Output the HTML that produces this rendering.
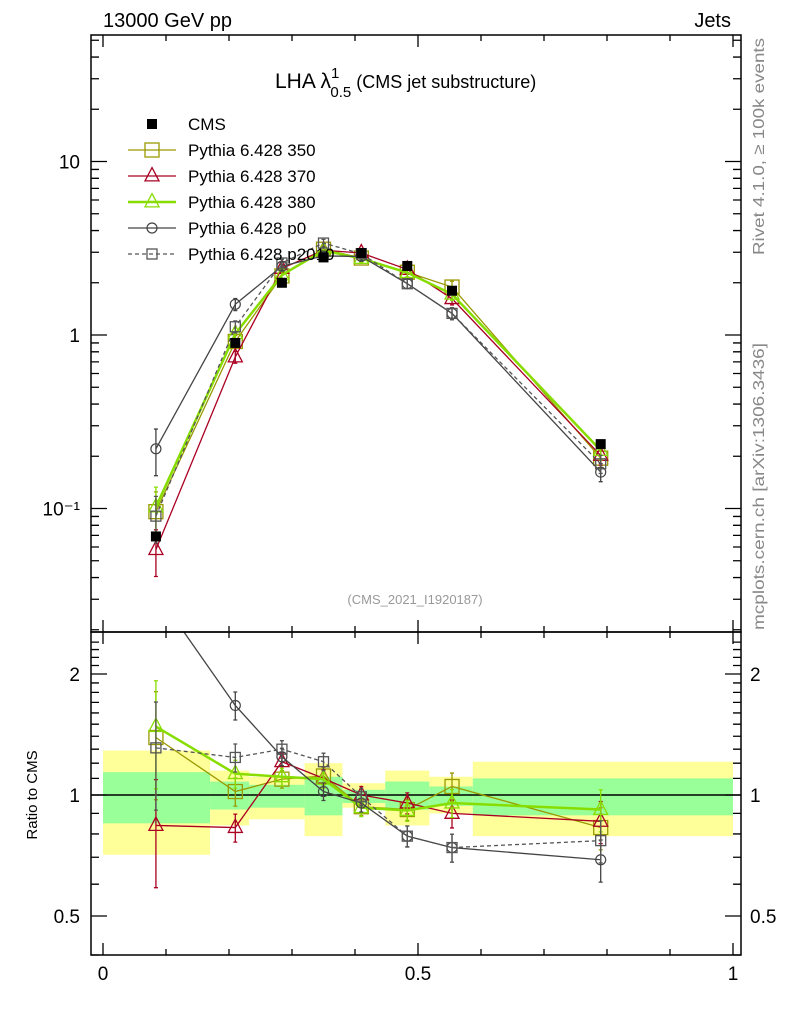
<!DOCTYPE html>
<html><head><meta charset="utf-8"><style>
body{margin:0;background:#fff;}
svg{display:block;font-family:"Liberation Sans",sans-serif;}
</style></head><body>
<svg id="chart" width="786" height="1024" viewBox="0 0 786 1024">
<text x="103" y="27" font-size="20">13000 GeV pp</text>
<text x="731" y="27" font-size="20" text-anchor="end">Jets</text>
<text x="275" y="88" font-size="21">LHA λ<tspan font-size="15" dy="-10">1</tspan><tspan font-size="15" dx="-9" dy="19">0.5</tspan><tspan font-size="18" dy="-9"> (CMS jet substructure)</tspan></text>
<text x="415" y="604" font-size="13" fill="#999" text-anchor="middle">(CMS_2021_I1920187)</text>
<text transform="translate(764,255) rotate(-90)" font-size="16" fill="#888" textLength="217" lengthAdjust="spacingAndGlyphs">Rivet 4.1.0, ≥ 100k events</text>
<text transform="translate(764,630) rotate(-90)" font-size="16" fill="#888" textLength="287" lengthAdjust="spacingAndGlyphs">mcplots.cern.ch [arXiv:1306.3436]</text>
<text transform="translate(37,795) rotate(-90)" font-size="15" text-anchor="middle">Ratio to CMS</text>
<defs>
<clipPath id="cm"><rect x="91" y="35" width="650" height="597"/></clipPath>
<clipPath id="cr"><rect x="91" y="632" width="650" height="323"/></clipPath>
</defs>
<g id="bands" clip-path="url(#cr)"></g>
<g id="marks"></g>
<g id="axes"></g>
<g id="legend"></g>
</svg>
<script>
const xs = [0.084, 0.21, 0.284, 0.35, 0.41, 0.483, 0.554, 0.79];
const binEdges = [0, 0.17, 0.232, 0.32, 0.38, 0.448, 0.518, 0.587, 1.0];
const cmsVals = [0.069, 0.9, 2.0, 2.8, 2.97, 2.5, 1.8, 0.235];
const bandYellowHi = [1.29, 1.15, 1.11, 1.20, 1.07, 1.15, 1.11, 1.21];
const bandYellowLo = [0.71, 0.84, 0.87, 0.79, 0.93, 0.84, 0.90, 0.79];
const bandGreenHi = [1.14, 1.08, 1.06, 1.11, 1.03, 1.08, 1.05, 1.10];
const bandGreenLo = [0.85, 0.92, 0.93, 0.89, 0.955, 0.92, 0.94, 0.89];
const ratio350 = [1.39, 1.02, 1.095, 1.115, 0.935, 0.92, 1.05, 0.83];
const ratio370 = [0.84, 0.83, 1.21, 1.10, 1.0, 0.955, 0.90, 0.86];
const ratio380 = [1.48, 1.13, 1.11, 1.095, 0.93, 0.915, 0.955, 0.92];
const ratioP0 = [3.2, 1.67, 1.245, 1.02, 0.955, 0.79, 0.74, 0.69];
const ratioP2010 = [1.31, 1.24, 1.30, 1.21, 0.99, 0.79, 0.74, 0.77];
const relErr = [0.3, 0.08, 0.05, 0.05, 0.05, 0.06, 0.08, 0.12];
const mainTickLabels = ["10⁻¹", "1", "10"];
const ratioTickVals = [0.5, 1, 2];
const xTickVals = [0, 0.5, 1];

const NS = "http://www.w3.org/2000/svg";
const X = v => 103 + 630 * v;
const YM = v => 335 - 173.5 * Math.log10(v);
const YR = r => 795 - 402 * Math.log10(r);
function mk(parent, tag, attrs) {
  const e = document.createElementNS(NS, tag);
  for (const k in attrs) e.setAttribute(k, attrs[k]);
  parent.appendChild(e); return e;
}
const bands = document.getElementById('bands');
const marks = document.getElementById('marks');
const axes = document.getElementById('axes');
const legend = document.getElementById('legend');

for (let i = 0; i < xs.length; i++) {
  const x0 = X(binEdges[i]), x1 = X(binEdges[i + 1]);
  const y = mk(bands, 'rect', {x: x0, y: YR(bandYellowHi[i]), width: x1 - x0, height: YR(bandYellowLo[i]) - YR(bandYellowHi[i]), fill: '#ffff99'});
  
  
  const g = mk(bands, 'rect', {x: x0, y: YR(bandGreenHi[i]), width: x1 - x0, height: YR(bandGreenLo[i]) - YR(bandGreenHi[i]), fill: '#99ff99'});
  
  
}
const one = mk(bands, 'line', {x1: 91, x2: 741, y1: YR(1), y2: YR(1), stroke: '#000', 'stroke-width': 1.5});



function marker(g, type, x, y, color, s) {
  if (type === 'sq') return mk(g, 'rect', {x: x - s, y: y - s, width: 2 * s, height: 2 * s, fill: 'none', stroke: color, 'stroke-width': 1.3});
  if (type === 'tri') return mk(g, 'path', {d: `M${x},${y - s * 1.2}L${x + s},${y + s * 0.7}L${x - s},${y + s * 0.7}Z`, fill: 'none', stroke: color, 'stroke-width': 1.3});
  if (type === 'circ') return mk(g, 'circle', {cx: x, cy: y, r: s, fill: 'none', stroke: color, 'stroke-width': 1.2});
  return mk(g, 'rect', {x: x - s, y: y - s, width: 2 * s, height: 2 * s, fill: color});
}
const series = [
  {name: 'Pythia 6.428 350', id: 'pythia-350', r: ratio350, color: '#999900', m: 'sq', s: 7, w: 1.3, dash: ''},
  {name: 'Pythia 6.428 370', id: 'pythia-370', r: ratio370, color: '#aa0022', m: 'tri', s: 7, w: 1.3, dash: ''},
  {name: 'Pythia 6.428 380', id: 'pythia-380', r: ratio380, color: '#88dd00', m: 'tri', s: 7, w: 2.5, dash: ''},
  {name: 'Pythia 6.428 p0', id: 'pythia-p0', r: ratioP0, color: '#444', m: 'circ', s: 5, w: 1.3, dash: ''},
  {name: 'Pythia 6.428 p2010', id: 'pythia-p2010', r: ratioP2010, color: '#555', m: 'sq', s: 5, w: 1.3, dash: '4,3'}
];
const gm = mk(marks, 'g', {'clip-path': 'url(#cm)'});
const gr = mk(marks, 'g', {'clip-path': 'url(#cr)'});
series.forEach(S => {
  const vals = S.r.map((r, i) => r * cmsVals[i]);
  [[gm, vals, YM, 'main'], [gr, S.r, YR, 'ratio']].forEach(([g, v, Y, tag]) => {
    const pl = mk(g, 'polyline', {points: v.map((q, i) => X(xs[i]) + ',' + Y(q)).join(' '), fill: 'none', stroke: S.color, 'stroke-width': S.w, 'stroke-dasharray': S.dash});
    
    
    v.forEach((q, i) => {
      if (Y(q) < 632 && tag === 'ratio') return;
      const e = relErr[i];
      const eb = mk(g, 'path', {d: `M${X(xs[i])},${Y(q * (1 + e))}V${Y(q * (1 - e))}M${X(xs[i]) - 2},${Y(q * (1 + e))}h4M${X(xs[i]) - 2},${Y(q * (1 - e))}h4`, stroke: S.color, 'stroke-width': 1.3, fill: 'none'});
      
      
      const m = marker(g, S.m, X(xs[i]), Y(q), S.color, S.s);
      
      
    });
  });
});
cmsVals.forEach((v, i) => {
  const m = marker(gm, 'fill', X(xs[i]), YM(v), '#000', 5);
  
  
});

const f1 = mk(axes, 'rect', {x: 91, y: 35, width: 650, height: 597, fill: 'none', stroke: '#000', 'stroke-width': 1.5});


const f2 = mk(axes, 'rect', {x: 91, y: 632, width: 650, height: 323, fill: 'none', stroke: '#000', 'stroke-width': 1.5});


let d = '';
for (let k = 0; k <= 10; k++) {
  const x = X(k / 10), L = (k % 5 === 0) ? 12 : 6;
  d += `M${x},35v${L}M${x},632v-${L}M${x},632v${L}M${x},955v-${L}`;
}
for (let dec = -2; dec <= 1; dec++) for (let m = 1; m <= 9; m++) {
  const v = m * Math.pow(10, dec), y = YM(v);
  if (y < 35 || y > 632) continue;
  const L = m === 1 ? 16 : 8;
  d += `M91,${y}h${L}M741,${y}h-${L}`;
}
for (let r = 0.4; r <= 2.5; r += 0.1) {
  const y = YR(r); if (y < 632 || y > 955) continue;
  const major = ratioTickVals.some(t => Math.abs(t - r) < 1e-6);
  const L = major ? 16 : 8;
  d += `M91,${y}h${L}M741,${y}h-${L}`;
}
const tk = mk(axes, 'path', {d: d, stroke: '#000', 'stroke-width': 1.3, fill: 'none'});


[0.1, 1, 10].forEach((v, i) => {
  const t = mk(axes, 'text', {x: 80, y: YM(v) + 7, 'font-size': 19, 'text-anchor': 'end'});
  t.textContent = mainTickLabels[i];
  
  
});
ratioTickVals.forEach(v => {
  [[80, 'end'], [750, 'start']].forEach(([x, a]) => {
    const t = mk(axes, 'text', {x: x, y: YR(v) + 7, 'font-size': 19, 'text-anchor': a});
    t.textContent = String(v);
    
    
  });
});
xTickVals.forEach(v => {
  const t = mk(axes, 'text', {x: X(v), y: 980, 'font-size': 19, 'text-anchor': 'middle'});
  t.textContent = String(v);
  
  
});

const rows = [{name: 'CMS', id: 'cms', m: 'fill', color: '#000', s: 5, w: 0, dash: ''}].concat(series);
rows.forEach((S, i) => {
  const y = 124 + i * 26;
  const g = mk(legend, 'g', {});
  
  
  if (S.w) mk(g, 'line', {x1: 128, x2: 176, y1: y, y2: y, stroke: S.color, 'stroke-width': S.w, 'stroke-dasharray': S.dash});
  marker(g, S.m, 152, y, S.color, S.s);
  const t = mk(g, 'text', {x: 188, y: y + 6, 'font-size': 17});
  t.textContent = S.name;
});
</script>
</body></html>
